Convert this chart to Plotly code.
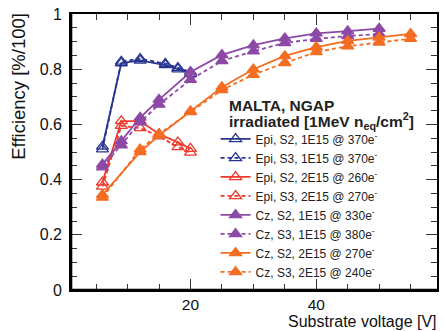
import plotly.graph_objects as go

# Substrate voltages [V]
v_epi_1e15 = [6, 9, 12, 16, 18, 20]
v_epi_2e15 = [6, 9, 12, 15, 18, 20]
v_cz_1e15 = [6, 9, 12, 15, 20, 25, 30, 35, 40, 45, 50]
v_cz_2e15 = [6, 12, 15, 20, 25, 30, 35, 40, 45, 50, 55]

# Efficiencies [%/100]
epi_s2_1e15 = [0.52, 0.822, 0.832, 0.815, 0.800, 0.783]
epi_s3_1e15 = [0.51, 0.828, 0.838, 0.820, 0.805, 0.790]
epi_s2_2e15 = [0.39, 0.612, 0.612, 0.565, 0.535, 0.512]
epi_s3_2e15 = [0.375, 0.595, 0.587, 0.557, 0.518, 0.498]
cz_s2_1e15 = [0.455, 0.54, 0.625, 0.69, 0.79, 0.852, 0.887, 0.912, 0.930, 0.938, 0.947]
cz_s3_1e15 = [0.445, 0.525, 0.608, 0.672, 0.762, 0.830, 0.865, 0.895, 0.910, 0.920, 0.928]
cz_s2_2e15 = [0.345, 0.50, 0.56, 0.648, 0.735, 0.800, 0.848, 0.880, 0.903, 0.915, 0.928]
cz_s3_2e15 = [0.335, 0.51, 0.565, 0.645, 0.725, 0.780, 0.823, 0.862, 0.883, 0.897, 0.910]

labels = [
    "Epi, S2, 1E15 @ 370e<sup>-</sup>",
    "Epi, S3, 1E15 @ 370e<sup>-</sup>",
    "Epi, S2, 2E15 @ 260e<sup>-</sup>",
    "Epi, S3, 2E15 @ 270e<sup>-</sup>",
    "Cz, S2, 1E15 @ 330e<sup>-</sup>",
    "Cz, S3, 1E15 @ 380e<sup>-</sup>",
    "Cz, S2, 2E15 @ 270e<sup>-</sup>",
    "Cz, S3, 2E15 @ 240e<sup>-</sup>",
]

BLUE = "#2a3590"
RED = "#ee3a2c"
PURPLE = "#8c49a6"
ORANGE = "#f46d22"

series = [
    (v_epi_1e15, epi_s2_1e15, BLUE, "solid", "triangle-up-open"),
    (v_epi_1e15, epi_s3_1e15, BLUE, "4px,3px", "triangle-up-open"),
    (v_epi_2e15, epi_s2_2e15, RED, "solid", "triangle-up-open"),
    (v_epi_2e15, epi_s3_2e15, RED, "4px,3px", "triangle-up-open"),
    (v_cz_1e15, cz_s2_1e15, PURPLE, "solid", "triangle-up"),
    (v_cz_1e15, cz_s3_1e15, PURPLE, "4px,3px", "triangle-up"),
    (v_cz_2e15, cz_s2_2e15, ORANGE, "solid", "triangle-up"),
    (v_cz_2e15, cz_s3_2e15, ORANGE, "4px,3px", "triangle-up"),
]

fig = go.Figure()
for (x, y, color, dash, symbol), name in zip(series, labels):
    fig.add_trace(go.Scatter(
        x=x, y=y, name=name, mode="lines+markers",
        line=dict(color=color, width=1.8, dash=dash),
        marker=dict(symbol=symbol, size=10.5, color=color,
                    line=dict(color=color, width=1.3)),
    ))

FONT = "Liberation Sans, Arial, Helvetica, sans-serif"
axis_common = dict(
    showline=True, linecolor="black", linewidth=1.6, mirror="ticks",
    ticks="inside", tickcolor="#333", tickwidth=1.3, ticklen=11,
    showgrid=False, zeroline=False,
    tickfont=dict(family=FONT, size=16, color="#111"),
)

fig.update_xaxes(
    range=[1, 59.2], tick0=0, dtick=20, ticklabelstandoff=0,
    minor=dict(dtick=5, ticks="inside", ticklen=6, tickcolor="#333", tickwidth=1.2),
    **axis_common,
)
fig.update_xaxes(tickfont_size=15.5)
fig.update_yaxes(
    range=[0, 1], tick0=0, dtick=0.2, ticklabelstandoff=4,
    minor=dict(dtick=0.05, ticks="inside", ticklen=6, tickcolor="#333", tickwidth=1.2),
    **axis_common,
)

# heavier left and bottom frame lines
fig.add_shape(type="line", xref="paper", yref="paper", x0=0, x1=0, y0=0, y1=1,
              line=dict(color="black", width=2.6))
fig.add_shape(type="line", xref="paper", yref="paper", x0=0, x1=1, y0=0, y1=0,
              line=dict(color="black", width=2.6))

fig.add_annotation(
    text="Efficiency [%/100]", textangle=-90, showarrow=False,
    xref="paper", yref="paper", x=-0.142, y=1.01, xanchor="center", yanchor="top",
    font=dict(family=FONT, size=18.5, color="#111"),
)
fig.add_annotation(
    text="Substrate voltage [V]", showarrow=False,
    xref="paper", yref="paper", x=1.005, y=-0.115, xanchor="right", yanchor="middle",
    font=dict(family=FONT, size=16, color="#111"),
)
fig.add_annotation(
    text="<b>MALTA, NGAP</b>", showarrow=False,
    xref="paper", yref="paper", x=0.425, y=0.67, xanchor="left", yanchor="middle",
    font=dict(family=FONT, size=15.5, color="#222"),
)
fig.add_annotation(
    text="<b>irradiated [1MeV n<sub>eq</sub>/cm<sup>2</sup>]</b>", showarrow=False,
    xref="paper", yref="paper", x=0.425, y=0.612, xanchor="left", yanchor="middle",
    font=dict(family=FONT, size=15.5, color="#222"),
)

fig.update_layout(
    width=443, height=331,
    margin=dict(l=71, r=4, t=14, b=41),
    paper_bgcolor="white", plot_bgcolor="white",
    showlegend=True,
    legend=dict(
        x=0.395, y=0.60, xanchor="left", yanchor="top",
        bgcolor="rgba(0,0,0,0)", borderwidth=0,
        font=dict(family=FONT, size=12, color="#222"),
        itemwidth=30, tracegroupgap=0,
    ),
)

fig.write_html("out.html")
